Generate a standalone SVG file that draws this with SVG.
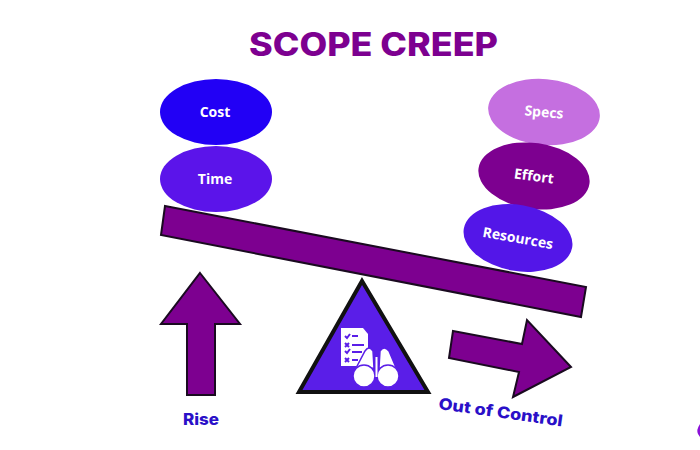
<svg xmlns="http://www.w3.org/2000/svg" width="700" height="450" viewBox="0 0 700 450">
<style>
.lbl{font-family:"Open Sans","Noto Sans",sans-serif;font-weight:700;font-size:14px;fill:#fff;text-anchor:middle}
.cap{font-family:"Inter","Liberation Sans",sans-serif;font-weight:800;font-size:16px;fill:#2a10c8}
.shape{fill:#7d0090;stroke:#1a0a20;stroke-width:2;stroke-linejoin:miter}
</style>
<rect width="700" height="450" fill="#fff"/>
<text x="249" y="56" textLength="249" lengthAdjust="spacingAndGlyphs" font-family="Inter,'Liberation Sans',sans-serif" font-weight="800" font-size="32" fill="#7d0090">SCOPE CREEP</text>
<g id="beam"><polygon class="shape" points="165,206 586,287 581,317 161,235"/></g>
<g id="cost"><ellipse cx="216" cy="112" rx="56" ry="33" fill="#2200f5"/><text class="lbl" x="215" y="117">Cost</text></g>
<g id="time"><ellipse cx="216" cy="179" rx="56" ry="33" fill="#5b14ea"/><text class="lbl" x="215" y="184">Time</text></g>
<g id="specs"><ellipse cx="544" cy="112" rx="56" ry="33" transform="rotate(5 544 112)" fill="#c56fe0"/><text class="lbl" x="544" y="117" transform="rotate(5 544 112)">Specs</text></g>
<g id="effort"><ellipse cx="534" cy="176" rx="56" ry="33" transform="rotate(8 534 176)" fill="#7d0090"/><text class="lbl" x="534" y="181" transform="rotate(8 534 176)">Effort</text></g>
<g id="resources"><ellipse cx="518" cy="238" rx="55" ry="33" transform="rotate(10 518 238)" fill="#5316e8"/><text class="lbl" x="518" y="243" transform="rotate(10 518 238)">Resources</text></g>
<g id="rise"><polygon class="shape" points="200,273 240,324 215,324 215,395 187,395 187,324 161,324"/><text class="cap" x="183" y="425" textLength="36" lengthAdjust="spacingAndGlyphs">Rise</text></g>
<g id="fulcrum">
<polygon points="362,281 299,392 428,392" fill="#5a1ee8" stroke="#111" stroke-width="4"/>
<path d="M341,328h22l5,6v32h-27z" fill="#fff"/>
<g stroke="#5a1ee8" stroke-width="2" fill="none"><path d="M345,336l2,2 3,-4M352,336h6M345,343l4,4M349,343l-4,4M352,345h12M345,351l2,2 3,-4M352,352h10M345,358l4,4M349,358l-4,4M352,360h6"/></g>
<g id="binoculars">
<path d="M355,370 L365,351 Q369,345 373,351 L374,368Z" fill="#fff" stroke="#5a1ee8" stroke-width="1.5"/>
<path d="M397,370 L389,351 Q384,345 380,351 L379,368Z" fill="#fff" stroke="#5a1ee8" stroke-width="1.5"/>
<circle cx="364" cy="376" r="11" fill="#fff" stroke="#5a1ee8" stroke-width="1.5"/>
<circle cx="388" cy="376" r="11" fill="#fff" stroke="#5a1ee8" stroke-width="1.5"/>
<rect x="375.5" y="357" width="2" height="20" fill="#fff"/>
</g>
</g>
<g id="out-of-control"><polygon class="shape" points="453,331 522,344 527,320 571,367 513,397 519,372 449,358"/><text class="cap" x="438" y="409" textLength="125" lengthAdjust="spacingAndGlyphs" transform="rotate(8 438 409)">Out of Control</text></g>
<path d="M700,424 Q696,430 698,434 L700,437Z" fill="#8a10d8"/>
</svg>
